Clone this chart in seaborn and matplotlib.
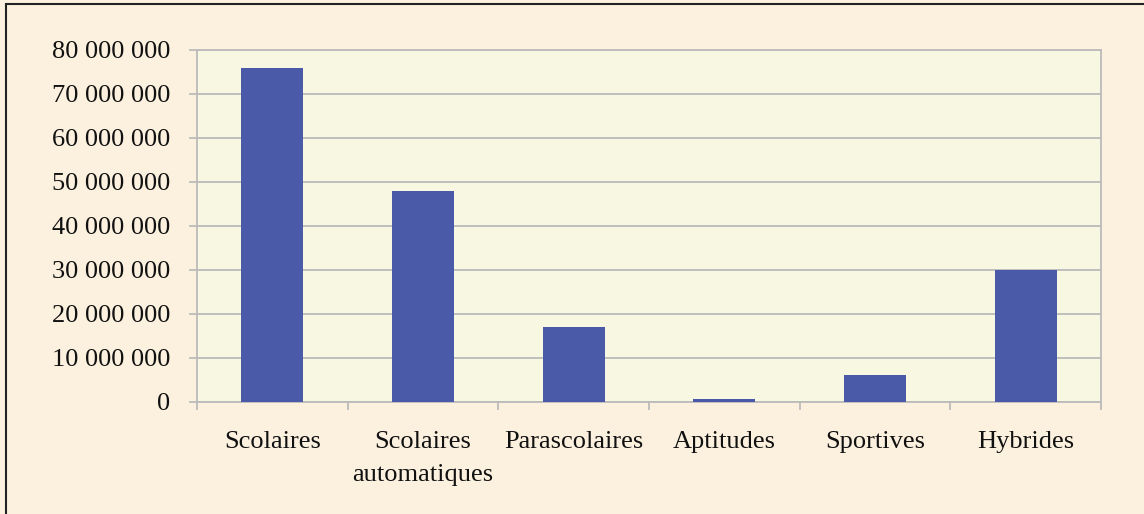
import matplotlib.pyplot as plt
import matplotlib.patches as mpatches
import seaborn as sns
import pandas as pd

categories = ['Scolaires', 'Scolaires\nautomatiques', 'Parascolaires',
              'Aptitudes', 'Sportives', 'Hybrides']
values = [76000000, 48000000, 17000000, 700000, 6200000, 29900000]
yticks = [0, 10000000, 20000000, 30000000, 40000000, 50000000,
          60000000, 70000000, 80000000]

df = pd.DataFrame({'cat': categories, 'val': values})

sns.set_style('white')
plt.rcParams['font.family'] = ['Liberation Serif', 'DejaVu Serif']

fig = plt.figure(figsize=(11.44, 5.14), dpi=100)
fig.patch.set_facecolor('#FCF1DF')
ax = fig.add_axes([197 / 1144, 1 - 402 / 514, 904 / 1144, 352 / 514])
ax.set_facecolor('#F8F8E2')

sns.barplot(data=df, x='cat', y='val', color='#4A5AA8', saturation=1,
            width=0.41, linewidth=0, ax=ax, zorder=3)

ax.set_xlim(-0.5, len(categories) - 0.5)
ax.set_ylim(0, 80000000)
ax.set_yticks(yticks)
ax.set_yticklabels([f'{v:,}'.replace(',', ' ') for v in yticks], fontsize=19)
ax.yaxis.grid(True, color='#BBBBBB', linewidth=1.3, zorder=0)
ax.tick_params(axis='y', length=6, width=1.3, color='#BBBBBB', pad=13,
               left=True, labelcolor='#111111')

ax.set_xticks(range(len(categories)))
ax.set_xticklabels(categories, fontsize=19, color='#111111', linespacing=1.65,
                   va='top')
ax.tick_params(axis='x', length=0, pad=21)
ax.set_xticks([i - 0.5 for i in range(len(categories) + 1)], minor=True)
ax.tick_params(axis='x', which='minor', length=6, width=1.3, color='#BBBBBB',
               bottom=True)

for side in ['left', 'bottom', 'right', 'top']:
    ax.spines[side].set_color('#BBBBBB')
    ax.spines[side].set_linewidth(1.3)
ax.set_xlabel('')
ax.set_ylabel('')

# figure frame (top and left edges)
fig.add_artist(mpatches.Rectangle((5.5 / 1144, -0.1), 1.2, 1.1 - 4.5 / 514,
                                  transform=fig.transFigure, fill=False,
                                  edgecolor='#222222', linewidth=1.5))

fig.savefig('out.png', dpi=100, facecolor=fig.get_facecolor())
